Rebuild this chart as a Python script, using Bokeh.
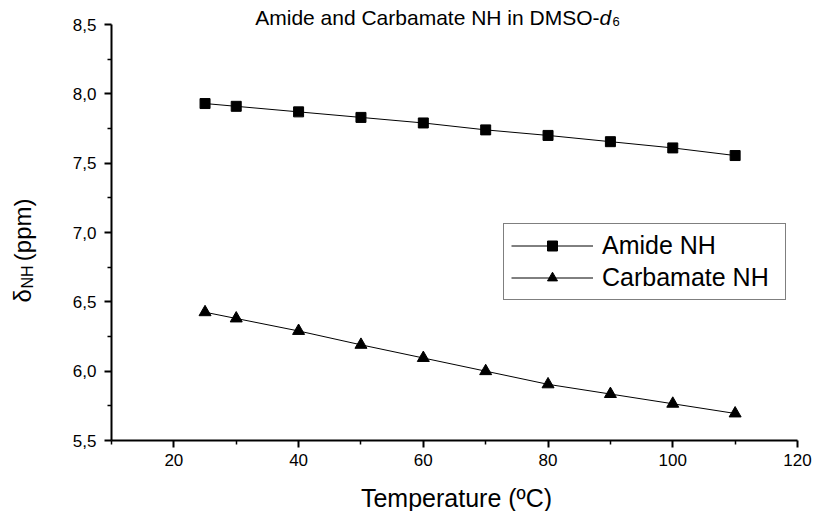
import math
from bokeh.plotting import figure
from bokeh.models import (Label, Legend, LegendItem, FixedTicker,
                          CustomJSTickFormatter, ColumnDataSource, Range1d)
from bokeh.embed import file_html
from bokeh.resources import INLINE

# ---- data ----
temps = [25, 30, 40, 50, 60, 70, 80, 90, 100, 110]
amide_nh = [7.93, 7.91, 7.87, 7.83, 7.79, 7.74, 7.70, 7.655, 7.61, 7.555]
carbamate_nh = [6.425, 6.38, 6.29, 6.19, 6.095, 6.0, 5.905, 5.835, 5.765, 5.695]

x_major = [20, 40, 60, 80, 100, 120]
x_minor = [10, 30, 50, 70, 90, 110]
y_major = [5.5, 6.0, 6.5, 7.0, 7.5, 8.0, 8.5]
y_minor = [5.75, 6.25, 6.75, 7.25, 7.75, 8.25]

title_main = "Amide and Carbamate NH in DMSO-"
title_italic = "d"
title_sub = "6"
xlabel = "Temperature (\u00baC)"
ylabel_main = "\u03b4"
ylabel_sub = "NH"
ylabel_rest = "(ppm)"

FONT = "Liberation Sans"

W, H = 812, 511
X0, X1 = 10, 120          # axis extent (data)
Y0, Y1 = 5.5, 8.5
PX_L, PX_R = 111, 797     # pixel positions of X0, X1
PY_T, PY_B = 24, 440      # pixel positions of Y1, Y0

kx = (X1 - X0) / (PX_R - PX_L)
ky = (Y1 - Y0) / (PY_B - PY_T)

def dx(px):
    return X0 + (px - PX_L) * kx

def dy(py):
    return Y1 - (py - PY_T) * ky

p = figure(width=W, height=H, output_backend="svg", toolbar_location=None,
           x_range=Range1d(dx(0), dx(W)), y_range=Range1d(dy(H), dy(0)),
           min_border=0, min_border_left=0, min_border_right=0,
           min_border_top=0, min_border_bottom=0)
p.title = None
p.outline_line_color = None
p.xgrid.visible = False
p.ygrid.visible = False
p.background_fill_color = "white"
p.border_fill_color = "white"

src = ColumnDataSource(dict(t=temps, a=amide_nh, c=carbamate_nh))
la = p.line("t", "a", source=src, line_color="black", line_width=1)
sa = p.scatter("t", "a", source=src, marker="square", size=10,
               fill_color="black", line_color="black")
lc = p.line("t", "c", source=src, line_color="black", line_width=1)
sc = p.scatter("t", "c", source=src, marker="triangle", size=12,
               fill_color="black", line_color="black")

xa = p.xaxis[0]
ya = p.yaxis[0]
xa.fixed_location = Y0
ya.fixed_location = X0
xa.bounds = (X0, X1)
ya.bounds = (Y0, Y1)
for ax in (xa, ya):
    ax.axis_line_width = 2
    ax.axis_line_color = "black"
    ax.major_tick_line_width = 2
    ax.minor_tick_line_width = 1.5
    ax.major_tick_out = 7
    ax.major_tick_in = 0
    ax.minor_tick_out = 4
    ax.minor_tick_in = 0
    ax.major_label_text_font = FONT
    ax.major_label_text_font_size = "17px"
    ax.major_label_text_color = "black"

xa.ticker = FixedTicker(ticks=x_major, minor_ticks=x_minor)
ya.ticker = FixedTicker(ticks=y_major, minor_ticks=y_minor)
ya.formatter = CustomJSTickFormatter(
    code="return tick.toFixed(1).replace('.', ',');")
xa.major_label_standoff = 6
ya.major_label_standoff = 8

# title pieces
p.add_layout(Label(x=dx(599), y=dy(17), text=title_main, text_font=FONT,
                   text_font_size="21px", text_align="right",
                   text_baseline="alphabetic", text_color="black"))
p.add_layout(Label(x=dx(599), y=dy(17), text=title_italic, text_font=FONT,
                   text_font_size="21px", text_font_style="italic",
                   text_align="left", text_baseline="alphabetic",
                   text_color="black"))
p.add_layout(Label(x=dx(612), y=dy(21), text=title_sub, text_font=FONT,
                   text_font_size="13px", text_align="left",
                   text_baseline="alphabetic", text_color="black"))

# x axis label
p.add_layout(Label(x=dx(456), y=dy(497), text=xlabel, text_font=FONT,
                   text_font_size="25px", text_align="center",
                   text_baseline="alphabetic", text_color="black"))

# y axis label pieces (rotated)
ang = math.pi / 2
p.add_layout(Label(x=dx(22), y=dy(302), text=ylabel_main, text_font=FONT,
                   text_font_size="24px", angle=ang, text_align="left",
                   text_baseline="alphabetic", text_color="black"))
p.add_layout(Label(x=dx(27), y=dy(288), text=ylabel_sub, text_font=FONT,
                   text_font_size="16px", angle=ang, text_align="left",
                   text_baseline="alphabetic", text_color="black"))
p.add_layout(Label(x=dx(22), y=dy(198), text=ylabel_rest, text_font=FONT,
                   text_font_size="24px", angle=ang, text_align="right",
                   text_baseline="alphabetic", text_color="black"))

legend = Legend(items=[LegendItem(label="Amide NH", renderers=[la, sa]),
                       LegendItem(label="Carbamate NH", renderers=[lc, sc])],
                location=(503, H - 300), padding=7, spacing=3, margin=0,
                glyph_width=82, glyph_height=25, label_standoff=9,
                label_width=176, label_height=25,
                label_text_font=FONT, label_text_font_size="25px",
                label_text_color="black",
                border_line_color="black", border_line_width=1,
                background_fill_color="white", background_fill_alpha=1)
p.add_layout(legend)

open("out.html", "w").write(file_html(p, INLINE))
